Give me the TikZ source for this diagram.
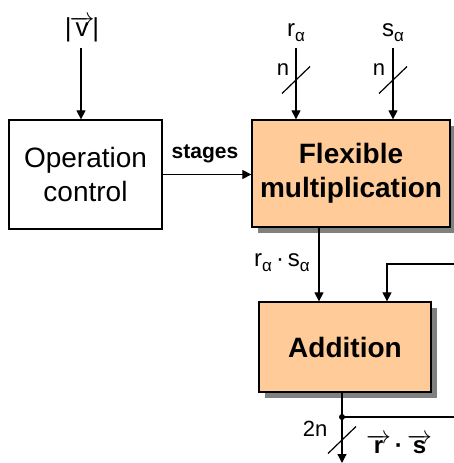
\documentclass[tikz,border=0pt]{standalone}
\usepackage{fontspec}
\setmainfont{Liberation Sans}
\usetikzlibrary{arrows.meta, positioning, shadows, calc}
\definecolor{blockpeach}{HTML}{FFCC99}
\definecolor{shadowgray}{HTML}{808080}

% small lowered index, as in r_alpha
\newcommand{\lowidx}[1]{\raisebox{-5pt}{\fontsize{17}{17}\selectfont #1}}
% arrow stacked above a letter
\newcommand{\arrowvec}[1]{\leavevmode\vbox{\offinterlineskip
    \halign{\hfil##\hfil\cr\rightarrowfill\cr\noalign{\kern-3pt}#1\cr}}}

\begin{document}
\begin{tikzpicture}[
    x=1pt, y=-1pt,
    >={Triangle[length=9pt, width=9pt]},
    line width=1.2pt,
    block/.style={draw, line width=1.3pt, align=center, inner sep=0pt},
    calcblock/.style={block, fill=blockpeach, font=\fontsize{28}{34}\selectfont\bfseries,
        drop shadow={shadow xshift=6pt, shadow yshift=-6pt, fill=shadowgray, opacity=1}},
    siglabel/.style={font=\fontsize{24}{24}\selectfont},
    buswidth/.style={font=\fontsize{22}{22}\selectfont},
]
\useasboundingbox[fill=white] (0,0) rectangle (454,463);

% Blocks
\node[block, fill=white, minimum width=153pt, minimum height=109pt,
      font=\fontsize{28}{34}\selectfont] (opctrl) at (85.5,174.5) {Operation\\control};
\node[calcblock, minimum width=198pt, minimum height=107pt] (mult) at (351,173.5)
    {Flexible\\multiplication};
\node[calcblock, minimum width=172pt, minimum height=90pt] (add) at (345,347) {Addition};

% Inputs on top
\node[siglabel, font=\fontsize{26}{26}\selectfont, inner sep=1pt] (vlabel) at (82,29)
    {\textbar\kern-2pt\arrowvec{v}\kern-2pt\textbar};
\node[siglabel] (rlabel) at (296,33) {r\lowidx{α}};
\node[siglabel] (slabel) at (393,33) {s\lowidx{α}};
\coordinate (vin) at (81,48);
\coordinate (rin) at (296,48);
\coordinate (sin) at (393,48);
\draw[->] (vin) -- (vin |- opctrl.north);
\draw[->] (rin) -- (rin |- mult.north);
\draw[->] (sin) -- (sin |- mult.north);

% Bus width marks
\coordinate (rbus) at (296,80);
\coordinate (sbus) at (393,80);
\draw (rbus) ++(-14,13.5) -- ++(28,-27);
\draw (sbus) ++(-14,13.5) -- ++(28,-27);
\node[buswidth] (rn) at (283,70) {n};
\node[buswidth] (sn) at (379,70) {n};

% Control to multiplier
\draw[->] (opctrl.east) -- (mult.west |- opctrl.east);
\node[font=\fontsize{21}{21}\selectfont\bfseries] (stageslabel) at (205,154) {stages};

% Multiplier to adder
\coordinate (prodx) at (319,0);
\draw[->] (prodx |- mult.south) -- (prodx |- add.north);
\node[siglabel] (prodlabel) at (282,263) {r\lowidx{α}\,·\,s\lowidx{α}};

% Feedback into adder
\coordinate (fbin) at (454,264);
\coordinate (fbx) at (387,0);
\draw[->] (fbin) -| (fbx |- add.north);

% Output
\coordinate (split) at (342,417);
\coordinate (fbout) at (454,417);
\coordinate (out) at (342,463);
\draw[->] (split |- add.south) -- (out);
\draw (split) -- (fbout);
\fill (split) circle (3pt);
\coordinate (obus) at (342,440);
\draw (obus) ++(-14,13.5) -- ++(28,-27);
\node[buswidth] (on) at (315,429) {2n};
\node[font=\fontsize{24}{24}\selectfont\bfseries, inner sep=1pt] (outlabel) at (399,444)
    {\arrowvec{r}\,·\,\arrowvec{s}};

\end{tikzpicture}
\end{document}
